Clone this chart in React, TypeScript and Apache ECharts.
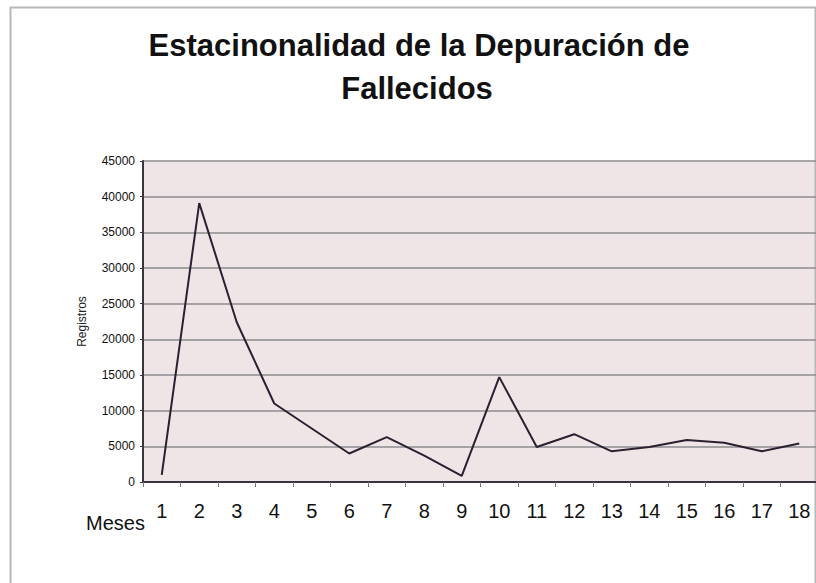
import React, { useEffect, useRef } from "react";
import * as echarts from "echarts";

const months = ["1", "2", "3", "4", "5", "6", "7", "8", "9", "10", "11", "12", "13", "14", "15", "16", "17", "18"];
const registros = [1000, 39100, 22400, 11000, 7500, 4000, 6300, 3700, 850, 14700, 4900, 6700, 4300, 4900, 5900, 5500, 4300, 5400];
const titleLines = ["Estacinonalidad de la Depuración de", "Fallecidos"];
const xName = "Meses";
const yName = "Registros";

export default function App() {
  const ref = useRef<HTMLDivElement>(null);
  useEffect(() => {
    if (!ref.current) return;
    const chart = echarts.init(ref.current, null, { renderer: "svg" });
    chart.setOption({
      animation: false,
      backgroundColor: "#ffffff",
      textStyle: { fontFamily: "Liberation Sans, Arial, sans-serif" },
      grid: { left: 143, top: 161, bottom: 101, right: 12, show: true, backgroundColor: "#efe5e7", borderWidth: 0 },
      graphic: [
        { type: "rect", shape: { x: 10.5, y: 7.5, width: 805, height: 600 }, style: { fill: "none", stroke: "#b8b8b8", lineWidth: 2 }, silent: true },
        { type: "text", x: 419, y: 45, style: { text: titleLines[0], font: "bold 31px 'Liberation Sans', Arial, sans-serif", fill: "#111", textAlign: "center", textVerticalAlign: "middle" } },
        { type: "text", x: 417, y: 88, style: { text: titleLines[1], font: "bold 31px 'Liberation Sans', Arial, sans-serif", fill: "#111", textAlign: "center", textVerticalAlign: "middle" } },
        { type: "text", x: 86, y: 523, style: { text: xName, font: "20px 'Liberation Sans', Arial, sans-serif", fill: "#111", textAlign: "left", textVerticalAlign: "middle" } },
      ],
      xAxis: {
        type: "category",
        data: months,
        boundaryGap: true,
        axisLine: { lineStyle: { color: "#3a3440", width: 2 } },
        axisTick: { show: true, length: 5, lineStyle: { color: "#777" } },
        axisLabel: { fontSize: 20, color: "#111", margin: 19 },
        splitLine: { show: false },
      },
      yAxis: {
        type: "value",
        min: 0,
        max: 45000,
        interval: 5000,
        name: yName,
        nameLocation: "middle",
        nameRotate: 90,
        nameGap: 55,
        nameTextStyle: { fontSize: 12, color: "#222" },
        axisLine: { show: true, lineStyle: { color: "#3a3440", width: 2 } },
        axisTick: { show: true, length: 3, lineStyle: { color: "#3a3440" } },
        axisLabel: { fontSize: 12, color: "#111", margin: 8, formatter: (v: number) => String(v) },
        splitLine: { show: true, lineStyle: { color: "#8c8a8e", width: 1.5 } },
      },
      series: [
        {
          type: "line",
          data: registros,
          symbol: "none",
          lineStyle: { color: "#2b2030", width: 2 },
        },
      ],
    });
    return () => chart.dispose();
  }, []);
  return (
    <div style={{ position: "fixed", left: 0, top: 0, width: 816, height: 583, overflow: "hidden" }}>
      <div ref={ref} style={{ width: 830, height: 583 }} />
    </div>
  );
}
